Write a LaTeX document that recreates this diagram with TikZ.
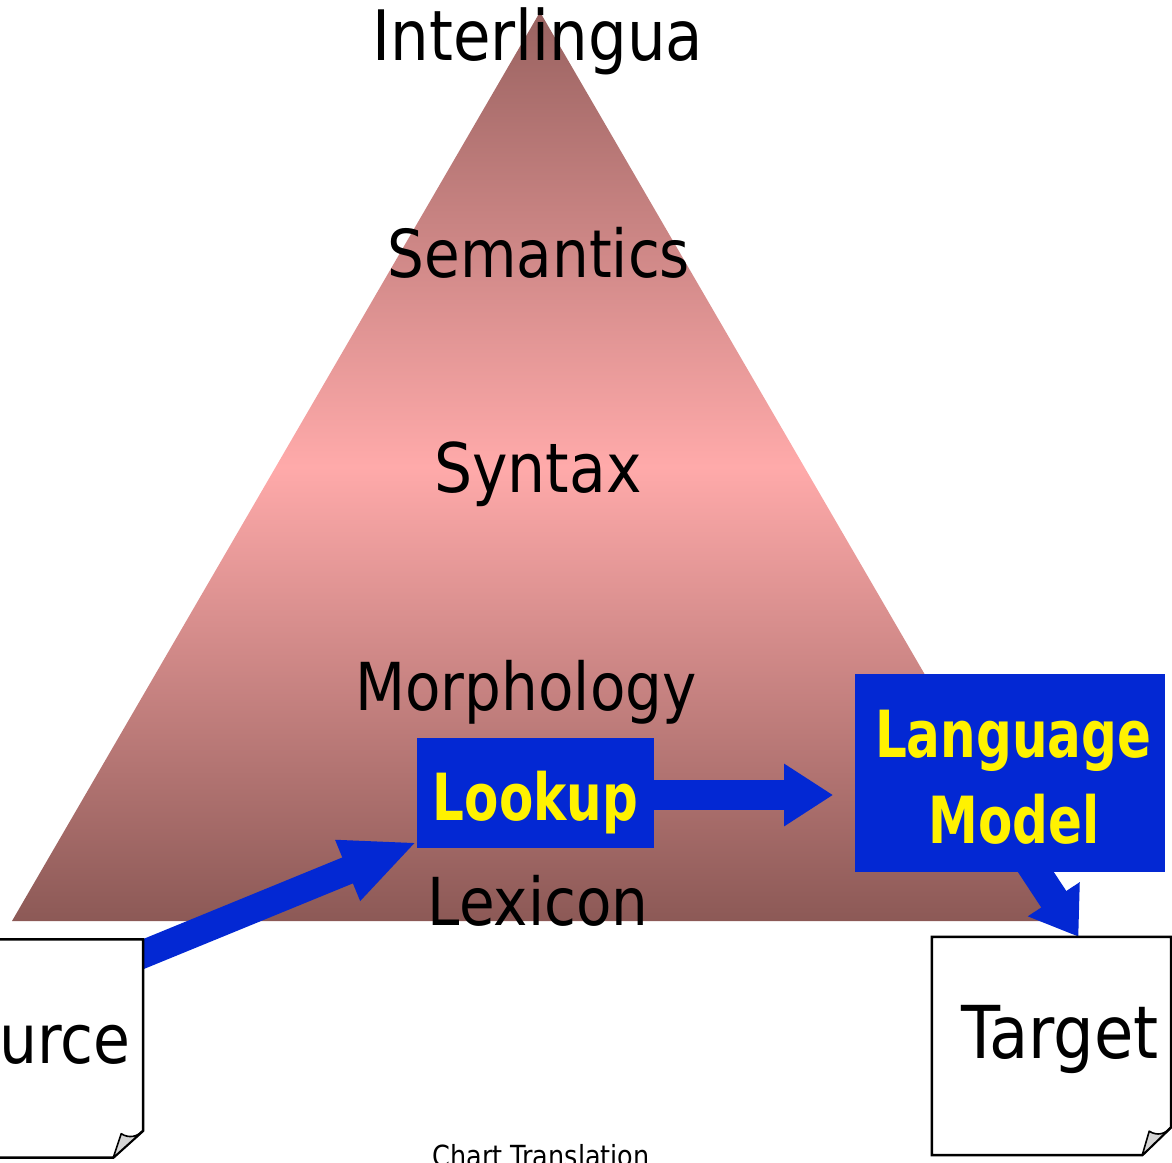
\documentclass[tikz,border=0pt]{standalone}
\usepackage{fontspec}
\setmainfont{DejaVu Sans}
\usetikzlibrary{arrows.meta,calc}
\definecolor{pyrtop}{HTML}{996260}
\definecolor{pyrmid}{HTML}{FFAAAA}
\definecolor{pyrbase}{HTML}{8C5956}
\definecolor{boxblue}{HTML}{0328D3}
\definecolor{foldgray}{HTML}{D6D6D6}
% taller letter shapes for the hand-lettered look
\newcommand{\tallreg}[1]{\scalebox{1}[1.14]{#1}}
\newcommand{\tallbold}[1]{\scalebox{1}[1.3]{#1}}

\begin{document}
\begin{tikzpicture}[x=1pt,y=-1pt,
  lvl/.style={inner sep=0pt, anchor=base, font=\fontsize{58}{60}\selectfont},
  modbox/.style={fill=boxblue, inner sep=0pt},
  modtext/.style={text=yellow, inner sep=0pt, anchor=base,
    font=\bfseries\fontsize{50}{60}\selectfont},
  flow/.style={draw=boxblue, line width=30pt, -{Triangle[length=49pt,width=59pt]}},
  docpage/.style={draw=none, fill=white, inner sep=0pt},
  docline/.style={draw=black, line width=2.5pt, line join=miter},
  docfold/.style={fill=foldgray, draw=black, line width=1.6pt, line join=round}
]
\useasboundingbox (0,0) rectangle (1172,1162);
\clip (0,0) rectangle (1172,1162);

% translation pyramid
\shade[top color=pyrtop, bottom color=pyrbase, middle color=pyrmid]
  (540,12) -- (1068,921) -- (12,921) -- cycle;

% levels of analysis
\node[lvl, font=\fontsize{61}{62}\selectfont] (inter) at (538,60) {\tallreg{Interlingua}};
\node[lvl] (sem) at (539,277) {\tallreg{Semantics}};
\node[lvl, font=\fontsize{60}{62}\selectfont] (syn) at (538,492) {\tallreg{Syntax}};
\node[lvl] (mor) at (526,710) {\tallreg{Morphology}};
\node[lvl] (lex) at (538,925) {\tallreg{Lexicon}};

% module and document frames
\coordinate (lkc) at (535.5,793);
\coordinate (lmc) at (1010,773);
\node[docpage, minimum width=240pt, minimum height=218pt] (src) at (23,1048.5) {};
\node[docpage, minimum width=239pt, minimum height=218pt] (tgt) at (1051.5,1046) {};

% flow arrows (drawn below the boxes they leave)
\draw[flow, line width=28pt, -{Triangle[length=75pt,width=60pt]}]
  ($(src.north east)+(-37,30)$) -- ($(lkc)+(-118.5,49)$);
\node[modbox, minimum width=237pt, minimum height=110pt,
  modtext, anchor=center, text height=60pt, text depth=6pt] (lookup) at (lkc) {\tallbold{Lookup}};
\draw[flow] ($(lookup.east)+(-2,2)$) -- ($(lookup.east)+(179,2)$);
\draw[flow, -{Triangle[length=45pt,width=59pt]}]
  ($(lmc)+(14,81)$) -- ($(tgt.north)+(27,0)$);
\node[modbox, minimum width=310pt, minimum height=198pt] (lm) at (lmc) {};
\node[modtext] (lmline1) at ($(lm.center)+(3,-16)$) {\tallbold{Language}};
\node[modtext] (lmline2) at ($(lm.center)+(4,70)$) {\tallbold{Model}};

% source document with turned corner
\fill[white] (src.north west) -- (src.north east) -- ($(src.south east)+(0,-27)$)
  -- ($(src.south east)+(-30,0)$) -- (src.south west) -- cycle;
\draw[docline] (src.north west) -- (src.north east) -- ($(src.south east)+(0,-27)$)
  -- ($(src.south east)+(-30,0)$) -- (src.south west) -- cycle;
\filldraw[docfold] ($(src.south east)+(-30,0)$) -- ($(src.south east)+(-22,-24)$)
  .. controls ($(src.south east)+(-14,-19)$) and ($(src.south east)+(-6,-21)$)
  .. ($(src.south east)+(0,-27)$) -- cycle;
\node[lvl, anchor=base east, font=\fontsize{60}{62}\selectfont] (srctext) at (131,1063) {\tallreg{Source}};

% target document with turned corner
\fill[white] (tgt.north west) -- (tgt.north east) -- ($(tgt.south east)+(0,-28)$)
  -- ($(tgt.south east)+(-29,0)$) -- (tgt.south west) -- cycle;
\draw[docline] (tgt.north west) -- (tgt.north east) -- ($(tgt.south east)+(0,-28)$)
  -- ($(tgt.south east)+(-29,0)$) -- (tgt.south west) -- cycle;
\filldraw[docfold] ($(tgt.south east)+(-29,0)$) -- ($(tgt.south east)+(-22,-24)$)
  .. controls ($(tgt.south east)+(-14,-19)$) and ($(tgt.south east)+(-6,-21)$)
  .. ($(tgt.south east)+(0,-28)$) -- cycle;
\node[lvl, font=\fontsize{64}{66}\selectfont] (tgttext) at (1060,1058) {\tallreg{Target}};

% caption
\node[inner sep=0pt, anchor=base, font=\fontsize{25.5}{27}\selectfont] (cap) at (541,1166)
  {\tallreg{Chart Translation}};
\end{tikzpicture}
\end{document}
